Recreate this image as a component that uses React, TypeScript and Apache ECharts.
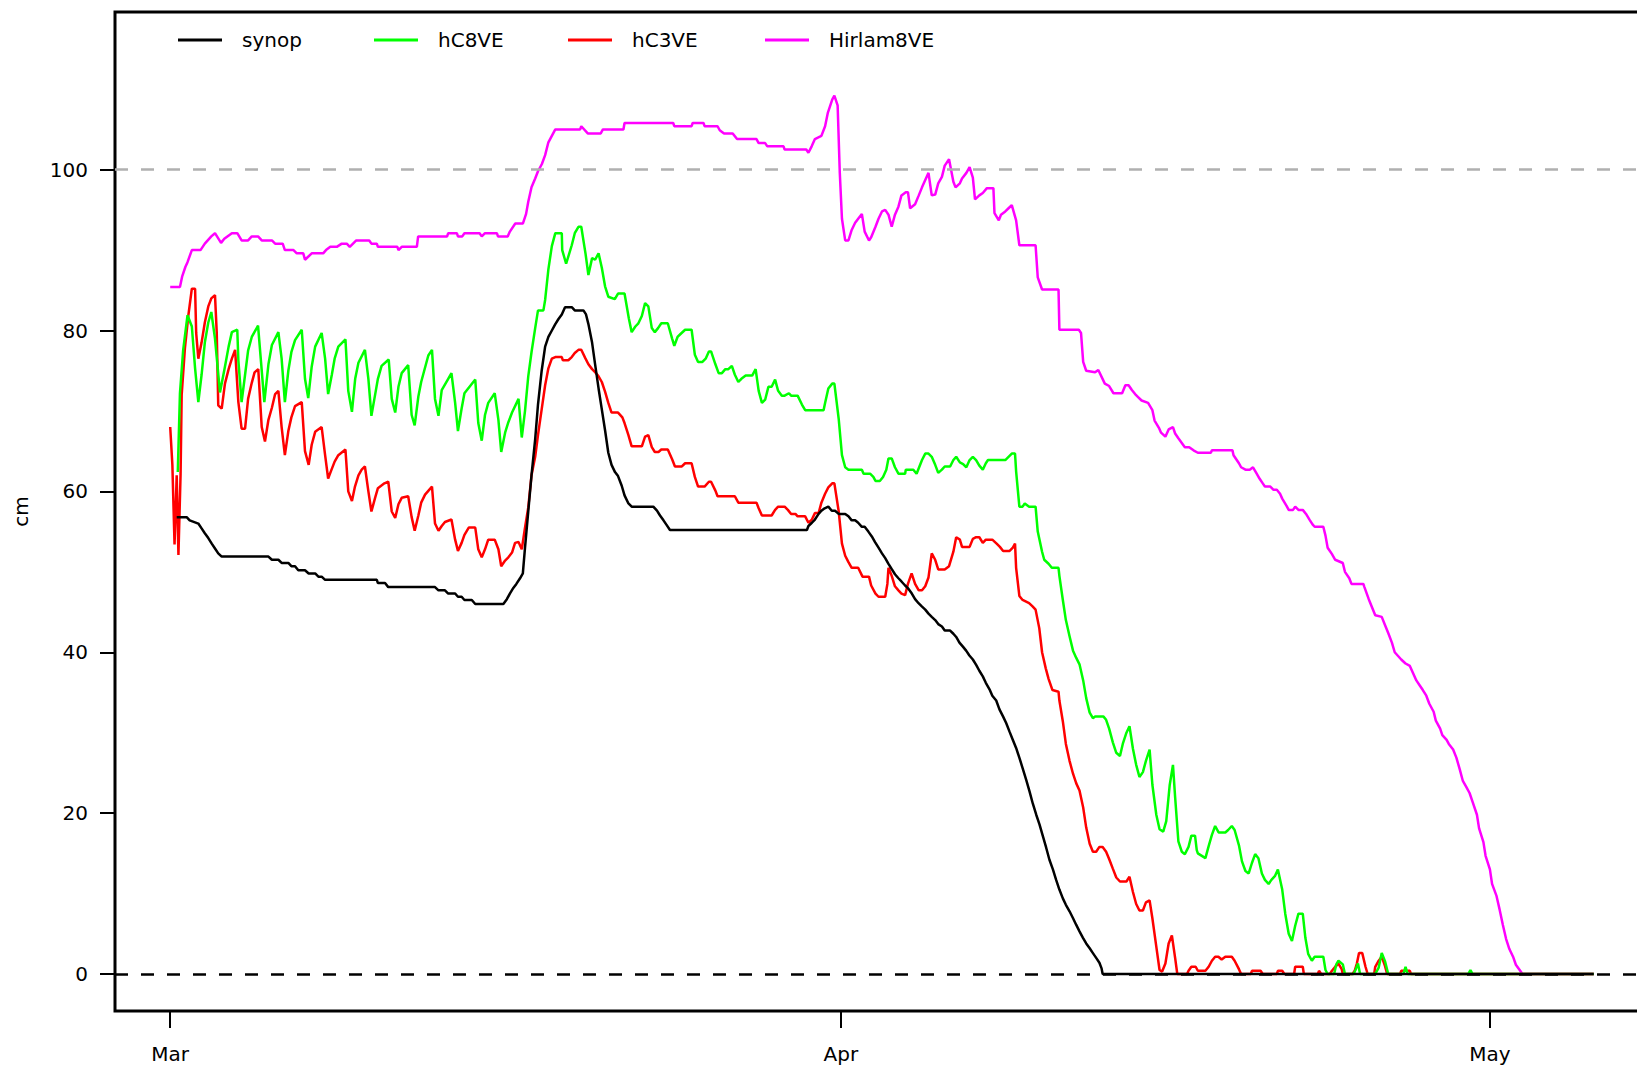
import React, { useEffect, useRef } from 'react';
import * as echarts from 'echarts';

const FONT = '"DejaVu Sans", "Liberation Sans", sans-serif';

const seriesNames = ['synop', 'hC8VE', 'hC3VE', 'Hirlam8VE'];
const seriesColors = ['#000000', '#00ff00', '#ff0000', '#ff00ff'];
const monthTicks = [0, 31, 61];
const monthLabels = ['Mar', 'Apr', 'May'];
const yTicks = [0, 20, 40, 60, 80, 100];

// [day since 1 Mar, snow depth cm]
const synop: [number, number][] = [
  [0.3, 56.8], [0.76, 56.8], [0.9, 56.4], [1.3, 56.0], [1.45, 55.4], [1.6, 54.8], [1.76, 54.2], [1.92, 53.5],
  [2.07, 52.9], [2.22, 52.3], [2.38, 51.9], [4.54, 51.9], [4.7, 51.5], [5.0, 51.5], [5.15, 51.1], [5.46, 51.1],
  [5.6, 50.7], [5.77, 50.7], [5.92, 50.2], [6.23, 50.2], [6.4, 49.8], [6.7, 49.8], [6.85, 49.4], [7.0, 49.4],
  [7.16, 49.0], [9.55, 49.0], [9.6, 48.6], [9.93, 48.6], [10.08, 48.1], [12.24, 48.1], [12.4, 47.7], [12.7, 47.7],
  [12.85, 47.3], [13.17, 47.3], [13.3, 46.9], [13.47, 46.9], [13.6, 46.5], [13.94, 46.5], [14.1, 46.0], [15.4, 46.0],
  [15.56, 46.6], [15.7, 47.3], [15.86, 48.0], [16.0, 48.5], [16.17, 49.2], [16.3, 49.8], [16.4, 53.0], [16.55, 57.5],
  [16.7, 62.0], [16.87, 66.5], [17.0, 70.8], [17.17, 75.0], [17.33, 78.0], [17.48, 79.2], [17.64, 80.0], [17.8, 80.8],
  [17.94, 81.4], [18.1, 82.0], [18.25, 82.9], [18.56, 82.9], [18.7, 82.5], [19.1, 82.5], [19.22, 82.0], [19.33, 80.8],
  [19.5, 78.5], [19.64, 75.8], [19.8, 72.8], [19.95, 70.2], [20.1, 67.6], [20.25, 64.8], [20.4, 63.3], [20.56, 62.4],
  [20.7, 61.9], [20.87, 60.7], [21.0, 59.5], [21.18, 58.5], [21.33, 58.1], [22.33, 58.1], [22.5, 57.6], [22.64, 57.0],
  [22.8, 56.4], [22.95, 55.8], [23.1, 55.2], [29.43, 55.2], [29.5, 55.7], [29.66, 56.1], [29.8, 56.5], [29.97, 57.2],
  [30.1, 57.6], [30.25, 57.9], [30.42, 58.1], [30.58, 57.6], [30.73, 57.6], [30.9, 57.2], [31.2, 57.2], [31.35, 56.9],
  [31.5, 56.4], [31.66, 56.4], [31.8, 56.1], [31.97, 55.6], [32.1, 55.6], [32.27, 55.0], [32.43, 54.4], [32.58, 53.7],
  [32.74, 53.0], [32.9, 52.3], [33.05, 51.7], [33.2, 51.0], [33.36, 50.3], [33.5, 49.7], [33.66, 49.2], [33.8, 48.8],
  [33.97, 48.3], [34.12, 47.9], [34.28, 47.3], [34.43, 46.6], [34.59, 46.1], [34.74, 45.7], [34.9, 45.3], [35.05, 44.8],
  [35.2, 44.4], [35.36, 44.0], [35.5, 43.5], [35.67, 43.2], [35.8, 42.7], [36.05, 42.7], [36.2, 42.3], [36.33, 41.9],
  [36.48, 41.2], [36.64, 40.7], [36.79, 40.2], [36.94, 39.6], [37.1, 39.1], [37.26, 38.4], [37.4, 37.7], [37.56, 37.0],
  [37.7, 36.2], [37.87, 35.4], [38.0, 34.6], [38.18, 34.0], [38.33, 32.9], [38.5, 32.0], [38.64, 31.2], [38.8, 30.1],
  [38.95, 29.1], [39.1, 28.1], [39.26, 26.8], [39.4, 25.6], [39.57, 24.1], [39.72, 22.7], [39.87, 21.2], [40.03, 19.8],
  [40.18, 18.6], [40.34, 17.1], [40.49, 15.7], [40.64, 14.2], [40.8, 13.0], [40.95, 11.7], [41.1, 10.5], [41.26, 9.4],
  [41.4, 8.6], [41.57, 7.8], [41.72, 7.0], [41.88, 6.1], [42.03, 5.3], [42.19, 4.5], [42.34, 3.8], [42.5, 3.2],
  [42.65, 2.6], [42.8, 2.0], [42.95, 1.4], [43.05, 0.7], [43.1, 0], [65.8, 0],
];

const hc8ve: [number, number][] = [
  [0.35, 62.4], [0.45, 72.2], [0.6, 77.6], [0.8, 81.9], [1.0, 80.5], [1.15, 75.3], [1.3, 71.1], [1.45, 74.5],
  [1.6, 78.5], [1.76, 81.0], [1.9, 82.3], [2.07, 79.0], [2.3, 72.3], [2.53, 75.5], [2.7, 78.0], [2.85, 79.8],
  [3.1, 80.1], [3.15, 76.3], [3.3, 71.1], [3.46, 74.5], [3.6, 77.5], [3.77, 79.2], [4.06, 80.6], [4.2, 76.0],
  [4.35, 71.1], [4.54, 75.8], [4.7, 78.2], [5.0, 79.8], [5.15, 76.5], [5.3, 71.1], [5.46, 75.0], [5.6, 77.3],
  [5.77, 78.8], [6.08, 80.1], [6.23, 74.0], [6.38, 71.6], [6.54, 75.5], [6.7, 78.0], [7.0, 79.7], [7.16, 76.5],
  [7.3, 72.1], [7.47, 74.5], [7.6, 76.5], [7.77, 78.0], [8.1, 78.9], [8.23, 72.5], [8.4, 69.9], [8.55, 74.0],
  [8.7, 76.0], [9.0, 77.6], [9.16, 74.0], [9.3, 69.4], [9.47, 72.0], [9.6, 74.0], [9.77, 75.6], [10.1, 76.4],
  [10.24, 71.5], [10.4, 69.8], [10.55, 73.0], [10.7, 74.7], [11.0, 75.7], [11.16, 69.5], [11.3, 68.2], [11.47, 71.8],
  [11.6, 73.6], [11.93, 76.9], [12.1, 77.6], [12.24, 71.5], [12.4, 69.4], [12.55, 72.6], [12.85, 74.0], [13.0, 74.7],
  [13.17, 71.0], [13.3, 67.5], [13.47, 70.3], [13.6, 72.2], [14.1, 73.9], [14.24, 68.5], [14.4, 66.3], [14.55, 69.5],
  [14.7, 71.0], [15.0, 72.2], [15.17, 68.9], [15.3, 64.9], [15.48, 67.3], [15.63, 68.6], [15.8, 69.8], [16.1, 71.5],
  [16.25, 66.7], [16.4, 70.0], [16.55, 74.3], [16.7, 77.3], [16.87, 80.3], [17.0, 82.5], [17.25, 82.5], [17.33, 83.8],
  [17.48, 87.6], [17.64, 90.5], [17.8, 92.1], [18.1, 92.1], [18.12, 90.0], [18.3, 88.3], [18.56, 90.6], [18.7, 92.1],
  [18.87, 92.9], [19.0, 92.9], [19.2, 89.5], [19.33, 86.9], [19.5, 89.0], [19.64, 88.8], [19.8, 89.6], [19.95, 87.8],
  [20.1, 85.5], [20.25, 84.2], [20.55, 83.9], [20.7, 84.6], [21.0, 84.6], [21.2, 81.5], [21.33, 79.8], [21.5, 80.5],
  [21.64, 80.9], [21.8, 81.8], [21.95, 83.4], [22.1, 83.0], [22.26, 80.3], [22.4, 79.8], [22.55, 80.3], [22.7, 80.9],
  [23.0, 80.9], [23.2, 79.0], [23.3, 78.1], [23.45, 79.2], [23.6, 79.6], [23.8, 80.1], [24.1, 80.1], [24.25, 77.0],
  [24.4, 76.1], [24.6, 76.1], [24.75, 76.5], [24.9, 77.4], [25.0, 77.4], [25.2, 75.8], [25.35, 74.7], [25.5, 74.7],
  [25.66, 75.2], [25.8, 75.2], [25.96, 75.6], [26.1, 74.5], [26.26, 73.6], [26.4, 74.0], [26.6, 74.4], [26.9, 74.4],
  [27.06, 75.2], [27.2, 72.5], [27.35, 71.0], [27.5, 71.4], [27.65, 73.0], [27.8, 73.0], [27.96, 73.9], [28.1, 72.5],
  [28.27, 71.9], [28.4, 71.9], [28.6, 72.2], [28.7, 71.9], [29.0, 71.9], [29.2, 70.8], [29.35, 70.1], [30.2, 70.1],
  [30.27, 71.0], [30.42, 72.8], [30.6, 73.4], [30.7, 73.4], [30.9, 69.0], [31.05, 64.5], [31.2, 63.0], [31.35, 62.7],
  [31.97, 62.7], [32.05, 62.2], [32.35, 62.2], [32.5, 61.8], [32.6, 61.3], [32.8, 61.3], [32.95, 61.8], [33.1, 62.7],
  [33.2, 64.1], [33.35, 64.1], [33.5, 63.0], [33.66, 62.2], [33.97, 62.2], [34.0, 62.7], [34.35, 62.7], [34.5, 62.2],
  [34.75, 63.9], [34.9, 64.7], [35.05, 64.7], [35.2, 64.3], [35.36, 63.3], [35.5, 62.3], [35.67, 62.7], [35.8, 63.1],
  [36.05, 63.1], [36.2, 63.9], [36.33, 64.3], [36.5, 63.6], [36.65, 63.4], [36.8, 63.0], [36.95, 63.9], [37.1, 64.3],
  [37.25, 63.9], [37.4, 63.2], [37.56, 62.7], [37.7, 63.5], [37.8, 63.9], [38.6, 63.9], [38.75, 64.3], [38.9, 64.7],
  [39.05, 64.7], [39.1, 62.5], [39.25, 58.1], [39.4, 58.1], [39.5, 58.5], [39.7, 58.1], [40.0, 58.1], [40.1, 55.0],
  [40.3, 52.5], [40.4, 51.5], [40.6, 51.0], [40.75, 50.5], [41.06, 50.5], [41.1, 49.5], [41.26, 46.5], [41.4, 44.0],
  [41.57, 42.0], [41.73, 40.2], [41.88, 39.3], [42.03, 38.5], [42.2, 36.5], [42.34, 34.3], [42.5, 32.5], [42.65, 31.8],
  [42.75, 32.0], [43.14, 32.0], [43.26, 31.6], [43.4, 30.5], [43.57, 28.8], [43.73, 27.5], [43.9, 27.1], [44.03, 28.6],
  [44.2, 30.0], [44.34, 30.8], [44.5, 28.0], [44.65, 26.0], [44.8, 24.5], [44.96, 25.1], [45.1, 26.5], [45.27, 27.9],
  [45.4, 23.5], [45.58, 19.8], [45.73, 18.0], [45.9, 17.7], [46.04, 19.0], [46.2, 23.5], [46.35, 26.0], [46.45, 22.0],
  [46.6, 16.5], [46.76, 15.2], [46.9, 14.9], [47.07, 15.8], [47.2, 17.2], [47.37, 17.2], [47.45, 15.4], [47.5, 15.0],
  [47.85, 14.4], [48.0, 15.9], [48.15, 17.3], [48.3, 18.4], [48.46, 17.6], [48.77, 17.6], [48.9, 17.9], [49.07, 18.4],
  [49.2, 17.9], [49.4, 16.0], [49.54, 14.0], [49.7, 12.8], [49.85, 12.5], [50.0, 13.8], [50.15, 14.9], [50.3, 14.4],
  [50.46, 12.5], [50.6, 11.7], [50.77, 11.2], [50.9, 11.7], [51.07, 12.2], [51.2, 13.0], [51.4, 10.5], [51.54, 7.5],
  [51.7, 5.0], [51.85, 4.1], [52.0, 6.0], [52.15, 7.5], [52.35, 7.5], [52.47, 4.5], [52.6, 2.5], [52.77, 1.65],
  [52.9, 2.15], [53.3, 2.15], [53.4, 0.5], [53.5, 0], [53.8, 0], [53.9, 1.2], [54.0, 1.65], [54.2, 1.2],
  [54.3, 0], [54.7, 0], [54.8, 0.6], [54.9, 1.3], [55.0, 0], [55.7, 0], [55.86, 0.8], [56.0, 2.6],
  [56.15, 1.6], [56.3, 0], [57.0, 0], [57.1, 0.9], [57.2, 0], [60.0, 0], [60.1, 0.5], [60.2, 0], [65.8, 0],
];

const hc3ve: [number, number][] = [
  [0.0, 68.0], [0.1, 63.3], [0.2, 53.4], [0.3, 62.0], [0.38, 52.1], [0.48, 62.2], [0.53, 72.0], [0.68, 77.8],
  [0.84, 81.9], [1.0, 85.2], [1.15, 85.2], [1.2, 79.7], [1.3, 76.5], [1.45, 78.5], [1.6, 81.0], [1.76, 83.0],
  [1.9, 84.0], [2.07, 84.4], [2.15, 79.8], [2.22, 70.7], [2.38, 70.3], [2.53, 73.4], [2.7, 75.2], [2.85, 76.5],
  [3.0, 77.6], [3.15, 71.1], [3.3, 67.8], [3.46, 67.8], [3.6, 71.5], [3.77, 73.5], [3.9, 74.8], [4.07, 75.2],
  [4.23, 68.0], [4.38, 66.2], [4.54, 68.9], [4.7, 70.4], [4.85, 72.1], [5.0, 72.5], [5.15, 68.0], [5.3, 64.5],
  [5.46, 67.5], [5.6, 69.2], [5.77, 70.6], [6.08, 71.1], [6.23, 65.0], [6.4, 63.3], [6.54, 65.8], [6.7, 67.4],
  [7.0, 68.0], [7.16, 64.5], [7.3, 61.6], [7.47, 62.8], [7.6, 63.7], [7.77, 64.5], [8.1, 65.2], [8.23, 60.0],
  [8.4, 58.8], [8.54, 60.6], [8.7, 62.0], [8.85, 62.7], [9.0, 63.1], [9.16, 60.0], [9.3, 57.5], [9.47, 59.2],
  [9.6, 60.4], [9.9, 61.0], [10.08, 61.2], [10.24, 57.5], [10.4, 56.7], [10.55, 58.4], [10.7, 59.2], [11.0, 59.4],
  [11.16, 56.8], [11.3, 55.1], [11.47, 57.0], [11.6, 58.6], [11.78, 59.6], [12.1, 60.6], [12.24, 56.0], [12.4, 55.1],
  [12.55, 55.7], [12.7, 56.2], [13.0, 56.5], [13.17, 54.0], [13.3, 52.6], [13.47, 53.6], [13.6, 54.6], [13.8, 55.5],
  [14.1, 55.5], [14.24, 52.8], [14.4, 51.8], [14.55, 52.8], [14.7, 54.0], [15.0, 54.0], [15.17, 52.8], [15.3, 50.7],
  [15.48, 51.4], [15.63, 51.8], [15.8, 52.4], [15.94, 53.6], [16.1, 53.7], [16.25, 52.8], [16.4, 55.5], [16.55, 58.0],
  [16.7, 62.0], [16.87, 64.3], [17.0, 67.0], [17.17, 70.2], [17.33, 73.2], [17.48, 75.3], [17.64, 76.5], [17.8, 76.7],
  [18.1, 76.7], [18.15, 76.3], [18.4, 76.3], [18.56, 76.7], [18.7, 77.2], [18.87, 77.6], [19.0, 77.6], [19.18, 76.6],
  [19.33, 75.8], [19.5, 75.2], [19.65, 74.8], [19.8, 74.3], [19.95, 73.6], [20.1, 72.4], [20.25, 71.0], [20.4, 69.8],
  [20.7, 69.8], [20.9, 69.2], [21.0, 68.5], [21.18, 67.0], [21.33, 65.6], [21.8, 65.6], [21.95, 66.8], [22.1, 67.0],
  [22.26, 65.5], [22.4, 64.9], [22.57, 64.9], [22.7, 65.2], [23.0, 65.2], [23.2, 64.0], [23.33, 63.1], [23.65, 63.1],
  [23.8, 63.5], [24.1, 63.5], [24.25, 61.8], [24.4, 60.6], [24.7, 60.6], [24.9, 61.2], [25.0, 61.2], [25.2, 60.1],
  [25.3, 59.4], [26.1, 59.4], [26.26, 58.6], [27.1, 58.6], [27.2, 57.9], [27.35, 57.0], [27.8, 57.0], [27.96, 57.7],
  [28.1, 58.1], [28.4, 58.1], [28.55, 57.7], [28.7, 57.2], [28.9, 57.2], [29.0, 56.9], [29.35, 56.9], [29.5, 56.1],
  [29.66, 56.5], [29.8, 57.3], [29.97, 57.3], [30.1, 58.6], [30.27, 59.7], [30.42, 60.5], [30.6, 61.0], [30.7, 61.0],
  [30.9, 57.5], [31.05, 53.5], [31.2, 52.0], [31.35, 51.2], [31.5, 50.5], [31.8, 50.5], [32.0, 49.4], [32.3, 49.4],
  [32.4, 48.3], [32.6, 47.3], [32.74, 46.9], [33.05, 46.9], [33.15, 48.5], [33.2, 50.5], [33.35, 49.5], [33.5, 48.2],
  [33.66, 47.7], [33.8, 47.3], [33.97, 47.1], [34.1, 48.5], [34.27, 49.8], [34.43, 48.5], [34.6, 47.7], [34.75, 47.7],
  [34.9, 48.2], [35.05, 49.3], [35.2, 52.3], [35.36, 51.5], [35.5, 50.3], [35.8, 50.3], [36.0, 50.7], [36.2, 52.5],
  [36.33, 54.3], [36.5, 54.0], [36.6, 53.1], [36.95, 53.1], [37.1, 54.1], [37.25, 54.3], [37.4, 54.3], [37.56, 53.6],
  [37.7, 54.0], [38.0, 54.0], [38.2, 53.5], [38.35, 53.1], [38.5, 52.6], [38.8, 52.6], [38.95, 53.0], [39.05, 53.5],
  [39.1, 50.5], [39.25, 47.0], [39.4, 46.5], [39.7, 46.1], [39.86, 45.7], [40.0, 45.3], [40.17, 43.0], [40.3, 40.0],
  [40.47, 38.0], [40.6, 36.7], [40.78, 35.3], [41.06, 35.1], [41.1, 34.0], [41.26, 31.4], [41.4, 28.6], [41.57, 26.5],
  [41.73, 24.9], [41.88, 23.7], [42.03, 22.8], [42.2, 20.7], [42.34, 18.2], [42.5, 16.2], [42.65, 15.2], [42.8, 15.2],
  [42.95, 15.8], [43.1, 15.8], [43.26, 15.2], [43.4, 14.3], [43.57, 13.1], [43.73, 12.0], [43.9, 11.5], [44.2, 11.5],
  [44.34, 12.1], [44.5, 10.2], [44.65, 8.7], [44.8, 7.9], [44.96, 7.9], [45.1, 8.9], [45.27, 9.15], [45.4, 6.9],
  [45.58, 3.4], [45.73, 0.5], [45.85, 0.3], [46.0, 1.3], [46.15, 3.8], [46.3, 4.8], [46.45, 2.0], [46.55, 0],
  [47.0, 0], [47.07, 0.4], [47.2, 0.9], [47.4, 0.9], [47.5, 0.4], [47.85, 0.4], [48.0, 0.9], [48.15, 1.65],
  [48.3, 2.15], [48.45, 2.15], [48.6, 1.8], [48.77, 2.15], [49.07, 2.15], [49.2, 1.65], [49.4, 0.6], [49.5, 0],
  [49.95, 0], [50.0, 0.4], [50.4, 0.4], [50.5, 0], [51.15, 0], [51.2, 0.4], [51.4, 0.4], [51.5, 0],
  [51.95, 0], [52.0, 0.9], [52.35, 0.9], [52.4, 0], [53.05, 0], [53.1, 0.4], [53.2, 0], [53.6, 0],
  [53.7, 0.4], [53.85, 0.9], [54.0, 1.3], [54.15, 0.6], [54.2, 0], [54.65, 0], [54.75, 0.4], [54.85, 1.3],
  [54.95, 2.6], [55.1, 2.6], [55.25, 0.9], [55.35, 0], [55.65, 0], [55.7, 0.9], [55.86, 1.65], [56.0, 2.15],
  [56.15, 1.0], [56.25, 0], [56.85, 0], [56.9, 0.4], [57.3, 0.4], [57.35, 0], [65.8, 0],
];

const hirlam8ve: [number, number][] = [
  [0, 85.4], [0.45, 85.4], [0.55, 86.7], [0.7, 87.9], [0.8, 88.5], [1.0, 90.0], [1.4, 90.0], [1.6, 90.8],
  [1.9, 91.7], [2.07, 92.1], [2.35, 90.9], [2.5, 91.4], [2.85, 92.1], [3.1, 92.1], [3.3, 91.2], [3.6, 91.2],
  [3.77, 91.7], [4.06, 91.7], [4.23, 91.2], [4.7, 91.2], [4.85, 90.8], [5.2, 90.8], [5.3, 90.0], [5.7, 90.0],
  [5.85, 89.6], [6.15, 89.6], [6.23, 88.8], [6.54, 89.6], [7.07, 89.6], [7.2, 90.0], [7.4, 90.4], [7.7, 90.4],
  [7.93, 90.8], [8.16, 90.8], [8.3, 90.4], [8.6, 91.2], [9.2, 91.2], [9.3, 90.8], [9.55, 90.8], [9.6, 90.4],
  [10.5, 90.4], [10.55, 90.0], [10.7, 90.4], [11.4, 90.4], [11.46, 91.7], [12.8, 91.7], [12.85, 92.1], [13.25, 92.1],
  [13.3, 91.7], [13.5, 91.7], [13.6, 92.1], [14.3, 92.1], [14.4, 91.7], [14.55, 92.1], [15.1, 92.1], [15.15, 91.7],
  [15.6, 91.7], [15.7, 92.3], [15.95, 93.3], [16.3, 93.3], [16.45, 94.5], [16.55, 96.0], [16.7, 97.8], [16.87, 98.9],
  [17.0, 99.8], [17.18, 100.7], [17.33, 101.8], [17.48, 103.4], [17.64, 104.2], [17.8, 105.0], [18.95, 105.0], [19.0, 105.4],
  [19.3, 104.5], [19.9, 104.5], [20.0, 105.0], [20.95, 105.0], [21.0, 105.8], [23.25, 105.8], [23.3, 105.4], [24.1, 105.4],
  [24.15, 105.8], [24.65, 105.8], [24.7, 105.4], [25.3, 105.4], [25.4, 104.9], [25.6, 104.5], [26.0, 104.5], [26.2, 103.8],
  [27.1, 103.8], [27.2, 103.3], [27.5, 103.3], [27.6, 102.9], [28.35, 102.9], [28.4, 102.5], [29.4, 102.5], [29.5, 102.1],
  [29.65, 102.9], [29.8, 103.8], [30.1, 104.2], [30.27, 105.4], [30.4, 107.1], [30.6, 108.7], [30.7, 109.2], [30.85, 108.0],
  [30.95, 99.6], [31.05, 93.9], [31.2, 91.2], [31.35, 91.2], [31.5, 92.5], [31.66, 93.4], [31.8, 93.9], [31.97, 94.5],
  [32.1, 92.3], [32.3, 91.2], [32.4, 91.6], [32.6, 92.9], [32.74, 93.9], [32.9, 94.8], [33.05, 95.0], [33.2, 94.4],
  [33.35, 92.9], [33.5, 94.4], [33.66, 95.4], [33.8, 96.8], [34.0, 97.2], [34.1, 97.2], [34.2, 95.2], [34.43, 95.7],
  [34.6, 96.8], [34.75, 97.8], [34.9, 98.7], [35.05, 99.6], [35.2, 96.8], [35.36, 96.9], [35.5, 98.3], [35.67, 99.1],
  [35.8, 100.5], [36.0, 101.3], [36.2, 98.5], [36.3, 97.8], [36.5, 98.3], [36.6, 98.9], [36.8, 99.6], [36.95, 100.3],
  [37.1, 99.0], [37.2, 96.3], [37.4, 96.8], [37.56, 97.1], [37.75, 97.7], [38.05, 97.7], [38.1, 94.6], [38.3, 93.7],
  [38.4, 94.4], [38.6, 94.8], [38.75, 95.2], [38.9, 95.6], [39.1, 93.7], [39.25, 90.6], [40.0, 90.6], [40.1, 86.6],
  [40.3, 85.1], [41.06, 85.1], [41.1, 80.1], [42.0, 80.1], [42.1, 79.7], [42.2, 76.1], [42.34, 75.0], [42.75, 74.8],
  [42.9, 75.1], [43.2, 73.4], [43.4, 73.1], [43.6, 72.2], [44.0, 72.2], [44.15, 73.2], [44.3, 73.2], [44.45, 72.6],
  [44.6, 72.1], [44.75, 71.7], [44.9, 71.3], [45.2, 71.0], [45.4, 70.1], [45.5, 68.8], [45.7, 67.9], [45.8, 67.3],
  [46.0, 66.8], [46.15, 67.7], [46.35, 68.0], [46.45, 67.2], [46.6, 66.6], [46.9, 65.5], [47.1, 65.5], [47.3, 65.1],
  [47.5, 64.8], [48.1, 64.8], [48.15, 65.1], [49.1, 65.1], [49.15, 64.5], [49.4, 63.5], [49.5, 63.0], [49.7, 62.7],
  [49.9, 62.7], [50.05, 63.0], [50.2, 62.3], [50.35, 61.6], [50.5, 61.0], [50.6, 60.6], [50.85, 60.6], [51.0, 60.2],
  [51.15, 60.2], [51.3, 59.7], [51.4, 59.1], [51.6, 58.2], [51.7, 57.7], [51.9, 57.7], [52.0, 58.1], [52.15, 57.7],
  [52.35, 57.7], [52.5, 57.2], [52.66, 56.5], [52.8, 55.9], [52.9, 55.6], [53.3, 55.6], [53.4, 54.5], [53.5, 53.0],
  [53.7, 52.2], [53.85, 51.5], [54.2, 51.1], [54.3, 50.0], [54.5, 49.2], [54.6, 48.5], [55.15, 48.5], [55.2, 48.1],
  [55.4, 46.6], [55.55, 45.6], [55.7, 44.6], [56.0, 44.4], [56.15, 43.4], [56.3, 42.4], [56.47, 41.2], [56.6, 40.0],
  [56.9, 39.1], [57.1, 38.6], [57.3, 38.3], [57.45, 37.4], [57.6, 36.5], [57.75, 35.9], [57.9, 35.3], [58.06, 34.6],
  [58.2, 33.6], [58.4, 32.6], [58.5, 31.5], [58.7, 30.5], [58.8, 29.7], [59.0, 29.1], [59.1, 28.6], [59.3, 27.9],
  [59.45, 26.9], [59.6, 25.5], [59.75, 24.0], [59.9, 23.3], [60.06, 22.5], [60.2, 21.4], [60.4, 19.8], [60.5, 18.1],
  [60.7, 16.4], [60.8, 14.7], [61.0, 13.0], [61.1, 11.2], [61.3, 9.75], [61.45, 8.0], [61.6, 6.1], [61.75, 4.35],
  [61.9, 3.1], [62.07, 2.15], [62.2, 1.15], [62.4, 0.4], [62.5, 0], [65.8, 0],
];

const seriesData = [synop, hc8ve, hc3ve, hirlam8ve];
const legendLeft = [173, 369, 563, 760];

export default function App() {
  const ref = useRef<HTMLDivElement>(null);

  useEffect(() => {
    if (!ref.current) return;
    const chart = echarts.init(ref.current, null, { renderer: 'svg' });
    const textBase = { fontFamily: FONT, fontSize: 20, color: '#000' };

    const drawOrder = [3, 2, 1, 0];
    const series: any[] = drawOrder.map((i) => ({
      name: seriesNames[i],
      type: 'line',
      data: seriesData[i],
      showSymbol: false,
      symbol: 'none',
      color: seriesColors[i],
      lineStyle: { color: seriesColors[i], width: 2.5 },
      emphasis: { disabled: true },
      z: 2 + (3 - i),
    }));
    series[series.length - 1].markLine = {
      silent: true,
      symbol: ['none', 'none'],
      label: { show: false },
      emphasis: { disabled: true },
      data: [
        { yAxis: 0, lineStyle: { color: '#000000', type: [13, 13], width: 2.5 } },
        { yAxis: 100, lineStyle: { color: '#b0b0b0', type: [13, 13], width: 2.5 } },
      ],
    };

    chart.setOption({
      animation: false,
      backgroundColor: '#ffffff',
      grid: {
        left: 115,
        top: 12,
        width: 1535,
        height: 999,
        show: true,
        borderColor: '#000',
        borderWidth: 3,
        backgroundColor: 'transparent',
      },
      legend: seriesNames.map((n, i) => ({
        data: [n],
        left: legendLeft[i],
        top: 25,
        icon: 'rect',
        itemWidth: 44,
        itemHeight: 3,
        selectedMode: false,
        textStyle: { ...textBase, padding: [0, 0, 0, 15] },
      })),
      xAxis: {
        type: 'value',
        min: -2.552,
        max: 68.4,
        axisLine: { show: false, onZero: false },
        splitLine: { show: false },
        axisTick: {
          show: true,
          customValues: monthTicks,
          length: 17,
          lineStyle: { color: '#000', width: 2 },
        },
        axisLabel: {
          ...textBase,
          customValues: monthTicks,
          margin: 33,
          formatter: (v: number) => {
            const k = monthTicks.indexOf(Math.round(v));
            return k >= 0 ? monthLabels[k] : '';
          },
        },
      },
      yAxis: {
        type: 'value',
        min: -4.6,
        max: 119.6,
        name: 'cm',
        nameLocation: 'middle',
        nameGap: 84,
        nameRotate: 90,
        nameTextStyle: textBase,
        axisLine: { show: false, onZero: false },
        splitLine: { show: false },
        axisTick: {
          show: true,
          customValues: yTicks,
          length: 15,
          lineStyle: { color: '#000', width: 2 },
        },
        axisLabel: {
          ...textBase,
          customValues: yTicks,
          margin: 27,
          formatter: (v: number) => String(Math.round(v)),
        },
      },
      series,
    });

    return () => chart.dispose();
  }, []);

  return (
    <div
      style={{
        position: 'fixed',
        left: 0,
        top: 0,
        width: 1637,
        height: 1068,
        overflow: 'hidden',
        background: '#fff',
      }}
    >
      <div ref={ref} style={{ width: 1700, height: 1068 }} />
    </div>
  );
}
